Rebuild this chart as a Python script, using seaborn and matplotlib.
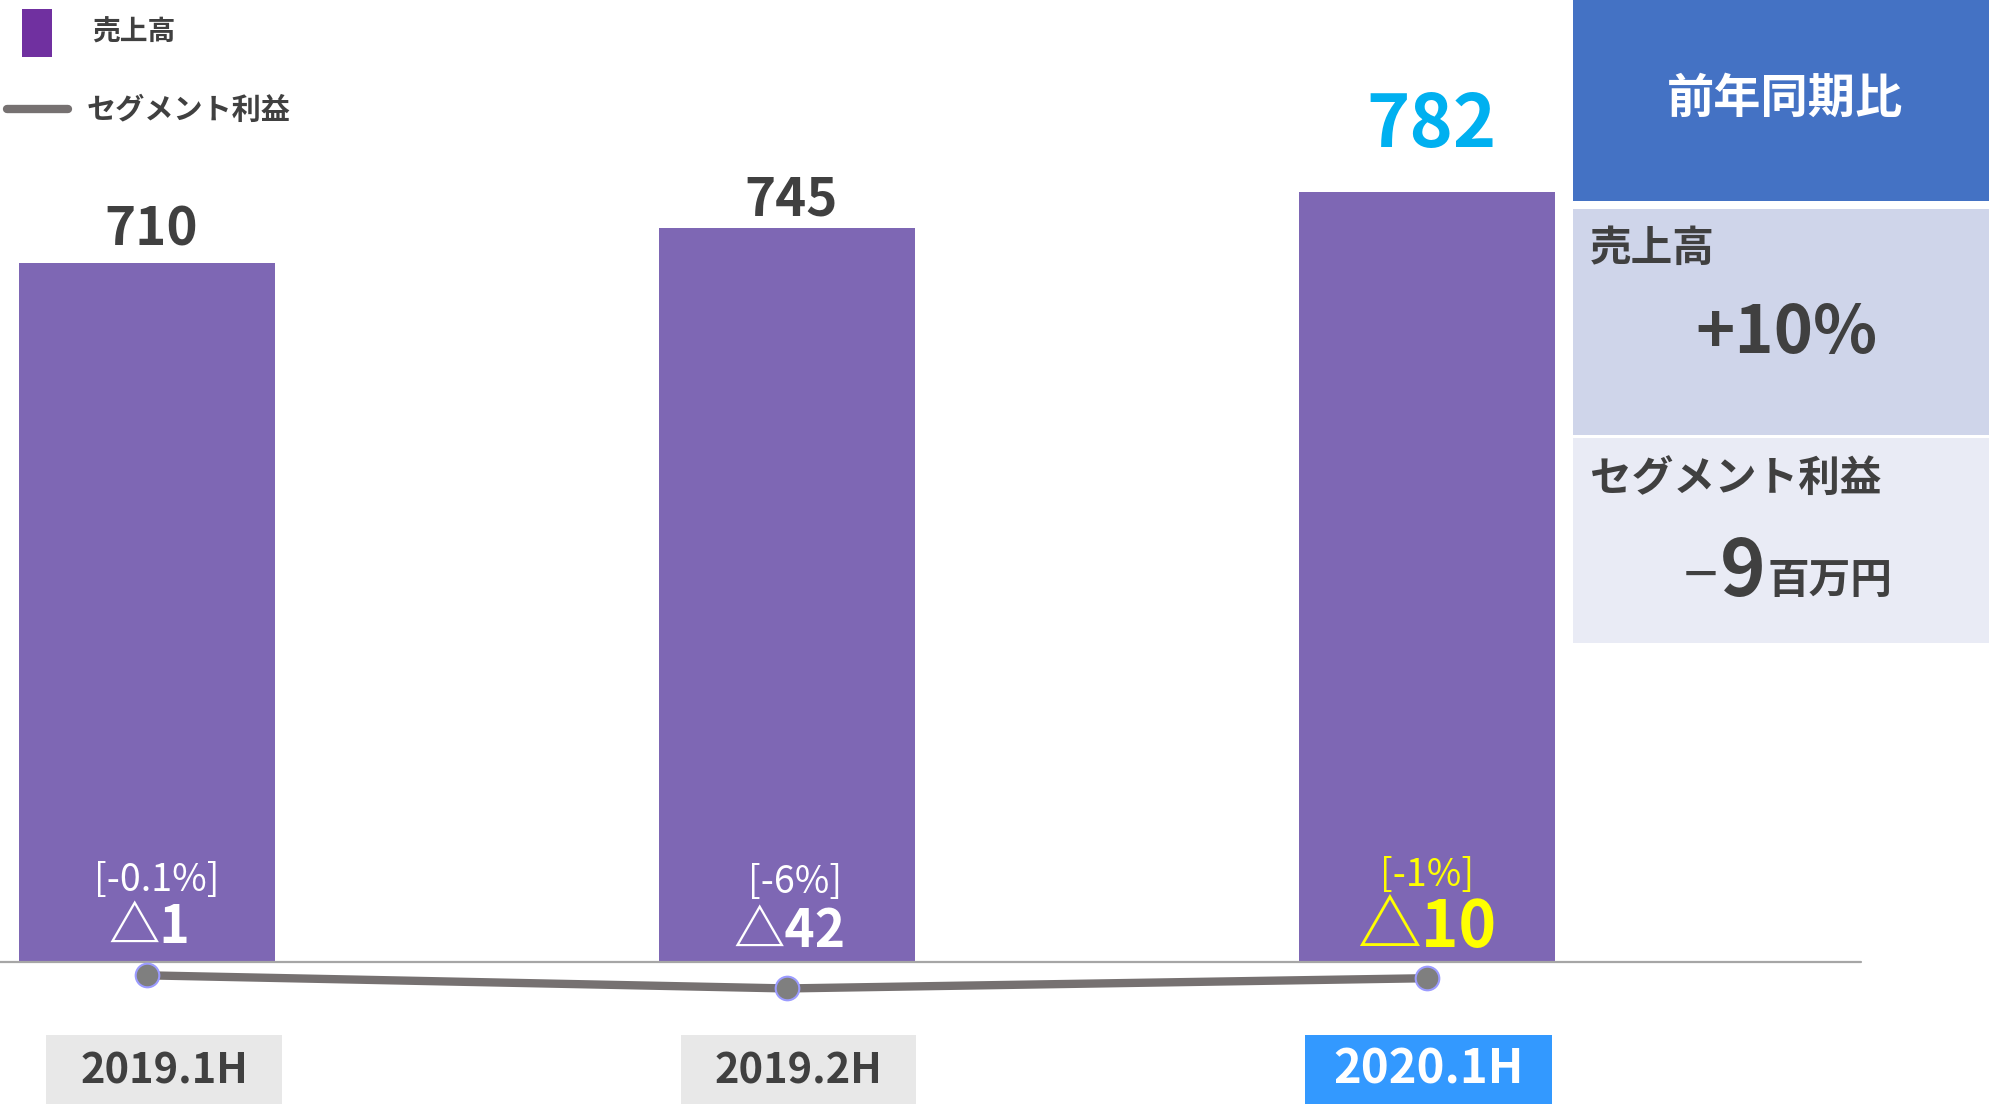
import numpy as np
import pandas as pd
import matplotlib
matplotlib.use('Agg')
import matplotlib.pyplot as plt
from matplotlib.patches import Rectangle
from matplotlib.lines import Line2D
import seaborn as sns

# data
periods = ['2019.1H', '2019.2H', '2020.1H']
sales = [710, 745, 782]
profit = [-1, -42, -10]
profit_rate = ['[-0.1%]', '[-6%]', '[-1%]']
profit_text = ['△1', '△42', '△10']

legend_sales = '売上高'
legend_profit = 'セグメント利益'
yoy_title = '前年同期比'
yoy_sales_label = '売上高'
yoy_sales = '+10%'
yoy_profit_label = 'セグメント利益'
yoy_profit = '−9'
yoy_profit_unit = '百万円'

W, H = 1989, 1104
DARK = '#404040'
BAR = '#7e67b4'
LINE = '#767171'

sns.set_style('white')
plt.rcParams['font.family'] = ['Noto Sans CJK JP', 'DejaVu Sans']


def fx(px):
    return px / W


def fy(py):
    return 1 - py / H


df = pd.DataFrame({'pos': np.arange(len(periods)), 'period': periods,
                   'sales': sales, 'profit': profit})

fig = plt.figure(figsize=(W / 100, H / 100), dpi=100)
ax = fig.add_axes([0, 0, 1, 1])

sns.barplot(data=df, x='pos', y='sales', native_scale=True, orient='x',
            width=0.4, color=BAR, saturation=1, errorbar=None,
            edgecolor='none', linewidth=0, ax=ax)

# pixel layout: first bar centre at 147px, 640px per period, zero line at 962px
x0, xstep = 147, 640
y0, ystep = 962, 0.985
ax.set_xlim(-x0 / xstep, (W - x0) / xstep)
ax.set_ylim((y0 - H) / ystep, y0 / ystep)
ax.axis('off')
ax.axhline(0, xmin=0, xmax=1861 / W, color='#a6a6a6', lw=1.6, zorder=1)

# value labels on top of bars
top_colors = [DARK, DARK, '#00b0f0']
top_sizes = [38, 38, 53]
top_offsets = [12, 9, 32]
for i, v in enumerate(sales):
    ax.annotate(f'{v}', (i, v), xytext=(3, top_offsets[i]),
                textcoords='offset points', ha='center', va='baseline',
                fontsize=top_sizes[i], fontweight='bold', color=top_colors[i])

# profit labels inside bars
in_colors = ['white', 'white', '#ffff00']
in_sizes = [37, 37, 46]
rate_offsets = [51, 50, 55]
tri_offsets = [14, 11, 11]
rate_dx = [7, 6, 0]
tri_dx = [2, 2, 0]
for i in range(len(periods)):
    ax.annotate(profit_rate[i], (i, 0), xytext=(rate_dx[i], rate_offsets[i]),
                textcoords='offset points', ha='center', va='baseline',
                fontsize=27, color=in_colors[i])
    ax.annotate(profit_text[i], (i, 0), xytext=(tri_dx[i], tri_offsets[i]),
                textcoords='offset points', ha='center', va='baseline',
                fontsize=in_sizes[i], fontweight='bold', color=in_colors[i])

# period label boxes under the axis
box_shift = [0.027, 0.018, 0.002]
box_width = [0.369, 0.367, 0.386]
box_colors = ['#e8e8e8', '#e8e8e8', '#3399ff']
txt_colors = [DARK, DARK, 'white']
txt_sizes = [30, 30, 34]
box_bottom = (y0 - H) / ystep
box_h = 69 / ystep
for i, p in enumerate(periods):
    cx = i + box_shift[i]
    ax.add_patch(Rectangle((cx - box_width[i] / 2, box_bottom), box_width[i], box_h,
                           facecolor=box_colors[i], edgecolor='none', clip_on=False, zorder=2))
    ax.text(cx, (y0 - 1083) / ystep, p, ha='center', va='baseline', fontsize=txt_sizes[i],
            fontweight='bold', color=txt_colors[i], zorder=3)

# segment profit line on its own scale
ax2 = ax.twinx()
ax2.set_position([0, 0, 1, 1])
sns.lineplot(data=df, x='pos', y='profit', ax=ax2, color=LINE, linewidth=6,
             marker='o', markersize=17, markerfacecolor='#7f7f7f',
             markeredgecolor='#9b9bff', markeredgewidth=1.5)
ax2.set_xlim(-x0 / xstep, (W - x0) / xstep)
ax2.set_ylim(-403.1, 3046.9)
ax2.axis('off')

# legend
fig.add_artist(Rectangle((fx(22), fy(57)), 30 / W, 48 / H, facecolor='#7030a0',
                         edgecolor='none', transform=fig.transFigure))
fig.text(fx(92), fy(33), legend_sales, va='center', ha='left', fontsize=20,
         fontweight='bold', color=DARK)
fig.add_artist(Line2D([fx(7), fx(68)], [fy(109), fy(109)], lw=6, color=LINE,
                      transform=fig.transFigure))
fig.text(fx(87), fy(110), legend_profit, va='center', ha='left', fontsize=21,
         fontweight='bold', color=DARK)

# year-on-year panel
panels = [(0, 201, '#4472c4'), (209, 435, '#cfd5ea'), (438, 643, '#e9ebf5')]
for top, bottom, c in panels:
    fig.add_artist(Rectangle((fx(1573), fy(bottom)), (W - 1573) / W, (bottom - top) / H,
                             facecolor=c, edgecolor='none', transform=fig.transFigure))
fig.text(fx(1785), fy(99), yoy_title, ha='center', va='center', fontsize=34,
         fontweight='bold', color='white')
fig.text(fx(1590), fy(249), yoy_sales_label, ha='left', va='center', fontsize=30,
         fontweight='bold', color=DARK)
fig.text(fx(1786), fy(353), yoy_sales, ha='center', va='baseline', fontsize=48,
         fontweight='bold', color=DARK)
fig.text(fx(1590), fy(479), yoy_profit_label, ha='left', va='center', fontsize=30,
         fontweight='bold', color=DARK)
# thin minus sign, bold digit, then the unit
fig.text(fx(1718), fy(596), yoy_profit[0], ha='right', va='baseline', fontsize=44,
         color=DARK)
fig.text(fx(1766), fy(596), yoy_profit[1:], ha='right', va='baseline', fontsize=56,
         fontweight='bold', color=DARK)
fig.text(fx(1768), fy(593), yoy_profit_unit, ha='left', va='baseline', fontsize=30,
         fontweight='bold', color=DARK)

fig.savefig('out.png', dpi=100)
